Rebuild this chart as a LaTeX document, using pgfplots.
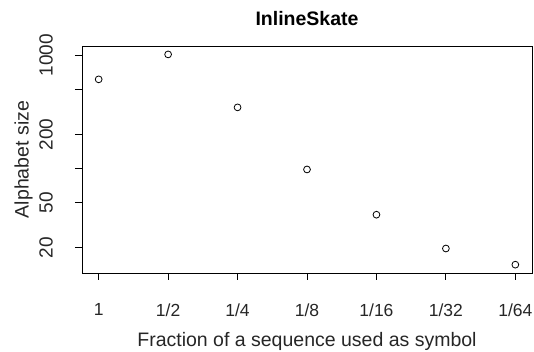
\documentclass[border=0pt]{standalone}
\usepackage{pgfplots}
\pgfplotsset{compat=1.18}
\usepackage{fontspec}
\setmainfont{Liberation Sans}
\begin{document}
\begin{tikzpicture}
\useasboundingbox (-82pt,-79pt) rectangle (452pt,273pt);
\begin{axis}[
  at={(0,0)}, anchor=south west,
  scale only axis, width=450pt, height=227pt,
  xmin=0.76, xmax=7.24,
  ymode=log, ymin=11.9, ymax=1211,
  xtick={1,2,3,4,5,6,7},
  xticklabels={1,1/2,1/4,1/8,1/16,1/32,1/64},
  ytick={20,50,100,200,500,1000},
  yticklabels={20,50,{},200,{},1000},
  minor ytick={},
  tick align=outside, major tick length=7pt,
  xtick pos=bottom, ytick pos=left,
  axis line style={line width=0.8pt},
  every tick/.style={line width=0.8pt, black},
  xticklabel style={font=\fontsize{17.5}{17.5}\selectfont, text=black!85, anchor=center, yshift=-30pt},
  yticklabel style={font=\fontsize{19}{19}\selectfont, text=black!85, rotate=90, anchor=center, yshift=29pt},
  title={InlineSkate},
  title style={at={(axis description cs:0.5,1.0925)}, anchor=center, font=\fontsize{19.5}{19.5}\selectfont\bfseries},
  xlabel={Fraction of a sequence used as symbol},
  xlabel style={at={(axis description cs:0.5,-0.2996)}, anchor=center, font=\fontsize{19.5}{19.5}\selectfont, text=black!85},
  ylabel={Alphabet size},
  ylabel style={at={(axis description cs:-0.1300,0.5)}, anchor=center, font=\fontsize{19.5}{19.5}\selectfont, text=black!85},
]
\addplot[only marks, mark=o, mark size=3.4pt, mark options={line width=0.8pt}, black] coordinates {
  (1,614) (2,1020) (3,347) (4,98) (5,39) (6,19.6) (7,14.1)
};
\end{axis}
\end{tikzpicture}
\end{document}
